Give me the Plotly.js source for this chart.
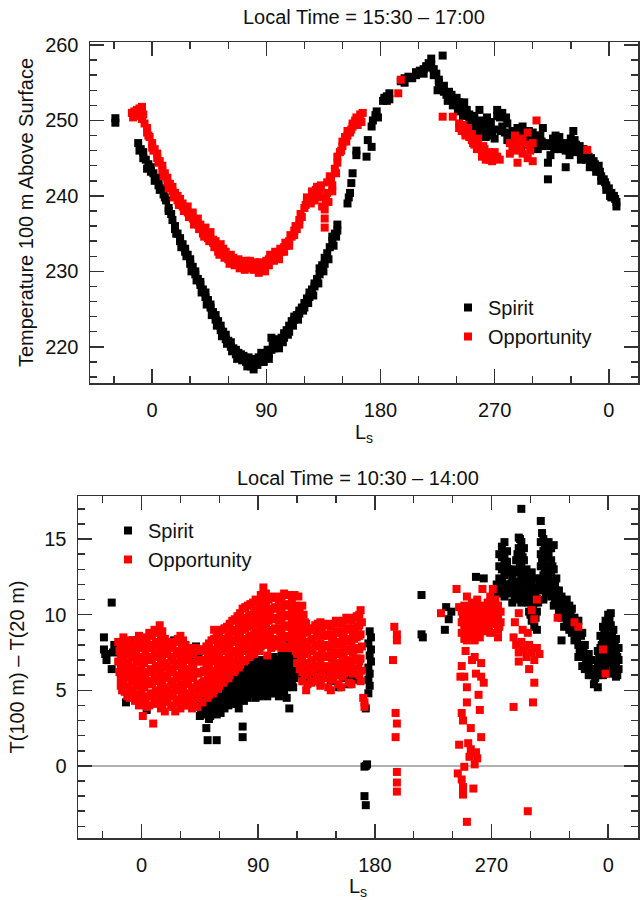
<!DOCTYPE html>
<html>
<head>
<meta charset="utf-8">
<script src="https://cdn.plot.ly/plotly-3.0.1.min.js"></script>
<style>html,body{margin:0;padding:0;background:#fff;}#chart{width:640px;height:900px;}</style>
</head>
<body>
<div id="chart"></div>
<script>
// ---- Data (Ls in degrees, continuing past 360 into the next Mars year) ----
const lsTickVals = [0, 90, 180, 270, 360];
const lsTickText = ["0", "90", "180", "270", "0"];
const topTitle = "Local Time = 15:30 \u2013 17:00";
const bottomTitle = "Local Time = 10:30 \u2013 14:00";
const seriesNames = ["Spirit", "Opportunity"];

// Top panel: temperature 100 m above surface [Ls, T]
const spiritTopPts = [
[-29,250.3],[-29,249.7],[-11,247.0],[-9,246.2],[-7,245.8],[-7,245.0],[-5,244.8],[-3,244.2],[-1,243.8],[-1,243.2],[1,243.0],[3,242.4],[5,242.0],[5,241.4],[7,241.0],[9,240.2],[11,239.4],[13,238.4],[13,238.0],[15,237.6],[18,236.0],[18,235.6],[20,235.0],[22,234.4],[22,234.0],[24,233.6],[26,233.0],[26,232.6],[28,232.2],[30,231.6],[30,231.0],[32,230.6],[34,230.0],[34,229.6],[36,229.0],[38,228.6],[38,228.2],[40,227.6],[42,227.2],[42,226.6],[44,226.2],[46,225.6],[46,225.2],[48,224.6],[50,224.2],[50,223.6],[52,223.4],[54,222.8],[54,222.2],[56,222.0],[58,221.6],[58,221.0],[60,220.8],[62,220.6],[62,220.0],[64,219.8],[66,219.6],[66,219.0],[68,219.2],[70,219.0],[70,218.6],[72,218.8],[74,218.4],[74,218.0],[76,218.6],[78,217.8],[78,217.4],[80,217.6],[80,217.0],[82,218.0],[84,218.6],[84,218.2],[86,219.2],[88,218.4],[88,218.0],[90,218.8],[92,219.0],[92,218.4],[94,219.6],[94,221.2],[96,220.6],[96,219.8],[98,220.2],[100,219.8],[100,220.8],[102,221.2],[104,221.8],[104,221.2],[106,222.2],[108,222.8],[108,222.0],[110,223.4],[112,223.6],[112,224.0],[114,224.2],[116,224.8],[116,224.4],[118,225.2],[120,225.8],[120,225.2],[122,226.4],[124,226.6],[124,227.2],[126,227.6],[128,228.4],[128,228.0],[130,229.0],[132,229.6],[132,230.4],[134,230.8],[136,231.0],[136,231.8],[138,232.4],[140,233.2],[142,234.0],[142,234.6],[144,235.0],[146,236.2],[146,235.4],
[-10,246.0],[-4,243.6],[2,242.0],[6,240.8],[10,239.8],[16,236.8],[19,235.0],[23,233.2],[27,232.0],[31,230.0],[35,228.8],[39,227.2],[43,225.6],[47,224.2],[51,222.8],[55,221.4],[59,220.4],[63,219.4],[67,218.4],[71,218.2],[75,217.4],[79,218.4],[83,217.6],[87,218.0],[91,219.6],[95,220.2],[99,221.0],[103,220.6],[107,221.6],[111,222.8],[115,223.6],[119,224.8],[123,225.8],[127,226.8],[131,228.4],[135,230.0],[139,231.6],[143,233.4],[145,234.6],
[154,239.0],[155,239.8],[156,240.4],[157,241.7],[158,243.0],[161,246.0],[161,245.4],[169,245.2],[170,247.4],[173,246.5],[173,249.2],[174,250.0],[176,250.7],[177,251.2],[178,250.4],
[182,252.6],[183,253.0],[185,252.6],[185,253.2],[187,253.6],[187,252.8],[196,255.2],[199,255.6],[199,255.0],[202,255.8],[205,255.6],[208,256.0],[208,256.4],[211,256.6],[214,256.8],[214,256.2],[216,257.2],[218,257.6],[218,257.0],[220,258.2],[220,257.4],[222,256.8],[222,256.0],[224,256.2],[226,255.4],[226,255.0],[228,254.4],[229,258.6],[230,253.8],[230,254.6],[232,253.4],[234,253.8],[234,252.8],[236,253.4],[238,252.8],[238,252.2],[240,253.0],[242,252.4],[242,251.8],[244,251.6],[246,252.4],[246,251.0],[248,251.4],[250,250.8],[250,250.0],[252,250.4],[254,249.8],[254,250.6],[256,249.4],[258,251.4],[258,250.0],[260,249.0],[262,248.6],[262,249.6],[264,250.4],[266,249.4],[266,248.4],[268,248.0],[270,248.8],[270,247.6],[272,251.4],[272,250.6],[274,250.4],[276,251.0],[276,249.2],[278,248.4],[280,249.6],[280,247.4],[282,247.2],[284,248.6],[284,247.8],[286,248.0],[288,249.0],[288,247.4],[290,248.6],[292,249.2],[292,247.8],[294,248.0],[296,247.2],[296,246.8],[298,247.8],[300,248.4],[300,247.4],[302,246.8],[304,247.4],[304,246.2],[306,248.0],[308,249.0],[308,246.6],[310,247.0],[312,244.4],[312,242.2],[314,245.4],[314,246.6],[316,247.6],[318,248.0],[318,247.0],[320,247.4],[322,246.8],[322,246.2],[324,247.0],[326,246.0],[326,243.8],[328,246.6],[330,247.6],[330,246.2],[332,248.6],[334,246.8],[334,245.8],[336,246.0],[338,245.4],[338,244.8],[340,246.2],[342,245.6],[342,244.8],[344,245.2],[346,244.4],[346,245.0],[348,244.6],[350,243.8],[350,243.2],[352,244.0],[354,242.6],[354,242.0],[356,242.2],[358,241.4],[358,240.8],[360,241.0],[362,240.4],[362,239.8],[364,240.0],[366,239.2],[366,238.6],
[225,254.0],[233,252.6],[237,252.0],[241,251.2],[245,250.6],[249,249.4],[253,249.0],[257,248.6],[263,247.8],[267,249.8],[275,248.6],[279,250.4],[283,248.2],[287,246.6],[291,246.6],[297,248.6],[303,248.0],[307,247.2],[317,246.2],[321,247.8],[325,246.8],[329,245.4],[333,247.4],[337,246.6],[341,245.2],[345,243.8],[349,244.2],[353,243.2],[357,241.8],[361,240.0],[365,239.6]
];
const oppTopPts = [
[-16,251.0],[-14,250.8],[-14,251.2],[-12,251.4],[-10,251.6],[-10,251.0],[-8,251.8],[-8,250.2],[-6,249.6],[-4,249.0],[-4,248.4],[-2,247.8],[0,247.0],[0,246.4],[2,246.2],[4,245.6],[4,245.0],[6,244.6],[8,244.0],[8,243.4],[10,243.0],[12,242.4],[12,241.8],[14,241.6],[16,241.2],[16,240.6],[18,240.4],[20,240.0],[20,239.4],[22,239.6],[24,239.0],[24,238.6],[26,238.4],[28,238.6],[28,237.8],[30,237.6],[32,237.8],[32,237.0],[34,236.8],[36,237.0],[36,236.2],[38,236.2],[40,235.6],[40,235.0],[42,235.8],[44,235.0],[44,234.4],[46,235.2],[48,234.2],[48,233.8],[50,234.0],[52,233.2],[52,232.6],[54,233.6],[56,233.0],[56,232.4],[58,232.6],[60,232.0],[60,231.6],[62,232.2],[64,231.8],[64,231.4],[66,231.4],[68,231.6],[68,231.0],[70,231.2],[72,231.0],[72,230.6],[74,231.4],[76,230.8],[76,230.4],[78,231.0],[80,230.6],[80,230.2],[82,230.8],[84,230.4],[84,229.8],[86,230.8],[88,231.0],[88,230.4],[90,231.4],[92,231.6],[92,230.8],[94,231.8],[96,232.0],[96,231.4],[98,232.2],[100,232.2],[100,231.6],[102,232.6],[104,233.2],[104,232.6],[106,233.4],[108,234.0],[108,233.4],[110,234.6],[112,235.4],[112,234.8],[114,235.6],[116,236.8],[116,236.2],[118,237.2],[120,238.4],[122,239.2],[122,239.8],[124,239.6],[126,240.0],[126,240.6],[128,239.4],[130,240.2],[130,241.2],[132,240.8],[132,239.8],[134,238.6],[136,238.2],[136,237.0],[136,235.8],[138,241.8],[138,240.4],[140,242.6],[142,241.4],[142,240.6],[144,243.6],[146,244.4],[146,245.2],[148,245.8],[150,246.6],[150,247.2],[152,247.8],[154,248.0],[154,248.6],[156,248.4],[158,249.2],[158,249.6],[160,250.0],[162,249.4],[164,250.4],[164,250.8],[166,251.0],
[-15,250.4],[-11,250.6],[-7,250.8],[-3,248.0],[1,246.0],[5,244.4],[9,242.6],[13,241.0],[17,239.8],[21,238.8],[25,238.0],[29,237.2],[33,236.2],[37,235.6],[41,234.6],[45,234.0],[49,233.2],[53,232.2],[57,231.8],[61,231.0],[65,230.8],[69,230.4],[73,230.2],[77,231.4],[81,231.2],[85,231.2],[89,230.0],[93,232.2],[97,232.6],[101,233.0],[105,233.8],[109,234.8],[113,236.0],[117,237.6],[121,238.8],[125,239.0],[129,240.8],[133,241.4],[137,239.6],[139,239.2],[141,242.0],[145,243.0],[149,246.0],[153,247.2],[157,248.8],[161,250.4],[165,249.8],
[194,253.6],[196,255.4],
[229,250.5],[237,250.5],[242,249.6],[242,249.0],[245,249.4],[247,248.4],[247,248.0],[250,247.8],[252,248.2],[252,247.4],[254,246.8],[256,247.0],[256,246.2],[258,246.4],[260,245.8],[260,245.2],[262,246.2],[264,245.4],[266,244.8],[266,245.8],[268,244.6],[272,245.2],[274,244.8],
[244,248.6],[249,249.0],[253,247.0],[257,247.6],[261,246.6],[263,244.8],[270,245.8],
[282,247.0],[282,245.6],[284,246.6],[286,248.0],[286,246.0],[288,247.4],[288,244.4],[290,246.4],[292,247.6],[292,245.6],[294,246.8],[296,248.4],[296,245.0],[298,246.0],[300,247.0],[300,244.6],[303,250.0],[343,246.1]
];

// Bottom panel: T(100 m) - T(20 m) [Ls, dT]
const spiritBotPts = [
[-29,8.5],[-29,7.7],[-27,7.0],[-28,7.4],[-23,6.4],[-23,10.8],[-22,7.5],[-21,8.0],
[-15,6.2],[-12,4.2],[-7,8.3],[-3,8.3],[-3,7.2],[-5,7.8],[4,3.7],[20,4.6],[25,8.3],[39,7.0],[42,7.9],[44,7.4],
[0,6.0],[8,5.5],[14,6.6],[30,5.0],[35,6.2],
[45,5.0],[45,4.4],[46,3.8],[45,3.3],[48,5.2],[48,4.6],[49,4.0],[48,3.4],
[51,5.5],[51,4.9],[52,4.3],[51,3.7],[52,3.1],[50,2.5],[51,1.7],
[54,5.4],[54,4.8],[55,4.2],[54,3.6],
[57,5.8],[57,5.2],[58,4.6],[57,4.0],[58,3.4],[58,1.7],
[60,6.0],[60,5.4],[61,4.8],[60,4.2],[61,3.5],
[63,6.2],[63,5.6],[64,5.0],[63,4.4],[64,3.8],
[66,6.4],[66,5.8],[67,5.2],[66,4.6],[67,4.0],
[69,6.5],[69,5.9],[70,5.3],[69,4.7],[70,4.1],
[72,6.6],[72,6.0],[73,5.4],[72,4.8],[73,4.2],
[75,6.8],[75,6.2],[76,5.6],[75,5.0],[76,4.4],[75,3.8],
[78,6.7],[78,6.1],[79,5.5],[78,4.9],[79,4.3],[78,2.6],[78,1.9],
[81,6.9],[81,6.3],[82,5.7],[81,5.1],[82,4.5],
[84,7.5],[84,6.6],[85,6.0],[84,5.4],[85,4.8],
[87,6.9],[87,6.3],[88,5.7],[87,5.1],[88,4.5],
[90,7.0],[90,6.4],[91,5.8],[90,5.2],[91,4.6],
[93,6.8],[93,6.2],[94,5.6],[93,5.0],
[96,7.0],[96,6.4],[97,5.8],[96,5.2],[97,4.6],
[99,7.1],[99,6.5],[100,5.9],[99,5.3],[100,4.8],
[102,7.2],[102,6.6],[103,6.0],[102,5.4],[103,4.8],
[105,7.0],[105,6.4],[106,5.8],[105,5.2],[106,4.6],
[108,7.3],[108,6.7],[109,6.1],[108,5.5],[109,4.9],
[111,7.6],[111,7.0],[112,6.4],[111,5.8],[112,5.2],[112,4.5],
[114,8.0],[114,7.4],[115,6.8],[114,6.2],[115,5.6],[114,3.8],
[117,8.3],[117,7.6],[118,7.0],[117,6.4],[118,5.8],[117,5.2],
[46.5,4.7],[46.5,4.1],[46.5,3.5],[49.5,5.0],[49.5,4.3],[49.5,3.7],[53,5.1],[53,4.5],[53,3.9],[53,3.3],
[56,5.5],[56,4.9],[56,4.3],[56,3.7],[59,5.7],[59,5.1],[59,4.5],[59,3.9],[62,5.9],[62,5.3],[62,4.7],[62,4.1],
[65,6.1],[65,5.5],[65,4.9],[65,4.3],[68,6.2],[68,5.6],[68,5.0],[68,4.4],[71,6.3],[71,5.7],[71,5.1],[71,4.5],
[74,6.5],[74,5.9],[74,5.3],[74,4.7],[74,4.1],[77,6.4],[77,5.8],[77,5.2],[77,4.6],[80,6.6],[80,6.0],[80,5.4],[80,4.8],
[83,6.9],[83,6.3],[83,5.7],[83,5.1],[86,6.6],[86,6.0],[86,5.4],[86,4.8],[89,6.7],[89,6.1],[89,5.5],[89,4.9],
[92,6.5],[92,5.9],[92,5.3],[92,4.7],[95,6.7],[95,6.1],[95,5.5],[95,4.9],[98,6.8],[98,6.2],[98,5.6],[98,5.0],
[101,6.9],[101,6.3],[101,5.7],[101,5.1],[104,6.7],[104,6.1],[104,5.5],[104,4.9],[107,7.0],[107,6.4],[107,5.8],[107,5.2],
[110,7.3],[110,6.7],[110,6.1],[110,5.5],[110,4.9],[113,7.7],[113,7.1],[113,6.5],[113,5.9],[113,5.3],[116,8.0],[116,7.3],[116,6.7],[116,6.1],[116,5.5],
[120,7.8],[121,7.0],[120,6.2],[124,6.8],[124,6.0],[125,5.6],[128,6.4],[129,5.8],[133,5.9],[133,6.6],[136,9.0],[138,6.0],[138,5.5],[142,6.2],[145,6.2],[146,5.6],[148,6.2],[152,5.2],[152,6.0],[156,5.8],[156,6.5],[160,5.4],[160,6.0],[163,5.9],[167,5.7],[167,6.4],
[176,8.9],[177,8.5],[175,8.1],[177,7.7],[176,7.3],[177,6.9],[175,6.5],[176,6.1],[175,5.7],[176,5.3],[175,4.8],[173,3.8],[172,-0.05],[174,0.1],[173,0.0],[172,-2.0],[173,-2.6],
[216,11.3],[216,8.7],[217,8.5],[235,10.5],[239,10.2],[237,9.7],[234,9.0],
[258,12.5],[264,12.4],[274,11.5],[274,12.0],
[276,14.0],[276,13.2],[276,12.4],[276,11.6],
[278,14.5],[278,13.8],[278,13.0],[278,12.2],[278,11.4],
[280,14.8],[280,14.0],[280,13.3],[280,12.6],[280,11.8],[280,11.2],
[282,14.2],[282,13.5],[282,12.8],[282,12.0],
[284,12.8],[284,12.0],[284,11.4],
[286,12.4],[286,11.6],[286,10.8],
[289,13.6],[289,12.8],[289,12.0],[289,11.2],
[291,15.1],[291,14.4],[291,13.6],[291,12.8],[291,12.1],[291,11.4],
[293,17.0],[293,14.8],[293,14.0],[293,13.2],[293,12.4],[293,11.6],[293,10.8],
[295,14.4],[295,13.6],[295,12.8],[295,12.0],[295,11.2],
[297,13.0],[297,12.2],[297,11.4],
[299,12.5],[299,11.8],[299,11.0],[299,10.2],
[301,12.8],[301,12.0],[301,11.2],[301,10.4],[301,9.6],
[303,12.4],[303,11.6],[303,10.8],[303,10.0],[303,9.2],
[305,11.8],[305,11.0],[305,10.2],[305,9.0],
[308,16.2],[308,14.8],[308,14.0],[308,13.2],[308,12.4],[308,11.6],
[310,15.0],[310,14.2],[310,13.4],[310,12.6],[310,11.8],[310,11.0],
[312,14.6],[312,13.8],[312,13.0],[312,12.2],[312,11.4],
[314,14.8],[314,14.0],[314,13.2],[314,12.4],[314,11.6],
[316,14.4],[316,13.6],[316,12.8],[316,12.0],[316,11.2],
[318,14.6],[318,13.0],[318,12.2],[318,11.4],[318,10.6],
[320,12.4],[320,11.6],[320,10.8],
[322,11.6],[322,10.8],[322,10.2],
[324,11.2],[324,10.4],[324,9.8],[324,8.3],
[326,10.8],[326,10.0],[326,9.2],
[328,11.0],[328,10.2],[328,9.5],
[330,10.6],[330,9.8],[330,9.0],
[332,10.4],[332,9.6],[332,8.8],
[334,9.8],[334,9.0],[334,8.3],
[337,9.6],[337,8.8],[337,8.0],[337,7.2],
[340,8.8],[340,8.0],[340,7.2],[340,6.6],
[342,8.0],[342,7.2],[342,6.4],
[345,7.4],[345,6.6],[345,6.0],
[347,7.0],[347,6.2],[349,6.4],[349,5.4],
[352,7.6],[352,6.8],[352,6.0],[352,5.2],
[354,8.6],[354,7.8],[354,7.0],[354,6.2],
[356,9.2],[356,8.4],[356,7.6],[356,6.8],[356,6.0],
[358,9.6],[358,8.8],[358,8.0],[358,7.2],[358,6.4],
[360,10.0],[360,9.2],[360,8.4],[360,7.6],[360,6.8],
[362,10.1],[362,9.3],[362,8.5],[362,7.7],[362,6.9],[362,6.1],
[364,9.0],[364,8.2],[364,7.4],[364,6.6],
[366,8.4],[366,7.6],[366,6.8],[366,5.9],
[368,7.8],[368,7.0],[368,6.4],
[283,13.0],[283,11.6],[285,12.0],[287,13.0],[287,11.8],[288,11.0],[290,14.0],[290,11.8],[292,15.0],[292,13.4],[292,12.2],[294,13.8],[294,11.4],[296,12.6],[298,12.0],[298,10.8],[300,11.4],[300,10.0],[302,11.8],[302,10.6],[304,11.2],[304,9.8],[306,10.8],[307,12.0],[309,15.4],[309,13.6],[309,12.0],[311,14.4],[311,12.8],[313,14.2],[313,12.6],[315,14.4],[315,12.0],[317,13.2],[317,11.6],[319,12.0],[319,11.0],[321,11.2],[323,10.6],[325,10.2],[327,10.4],[329,9.6],[331,10.2],[333,9.4],[335,9.0],[336,8.4],[338,7.6],[339,8.6],[341,7.6],[343,6.8],[344,7.2],[346,6.4],[348,6.0],[350,5.8],[351,6.4],[353,7.2],[355,8.0],[355,6.6],[357,8.8],[357,7.0],[359,9.2],[359,7.6],[361,9.6],[361,8.0],[363,8.6],[363,7.2],[365,8.0],[365,6.4],[367,7.2],[367,6.0]
];
const oppBotPts = [
[-18,8.2],[-17,7.6],[-18,6.9],[-17,6.2],[-16,5.3],
[-14,8.5],[-13,7.8],[-14,7.0],[-13,6.3],[-14,5.6],[-13,4.9],
[-10,8.3],[-9,7.5],[-10,6.8],[-9,6.0],[-10,5.2],[-9,4.5],
[-6,8.0],[-5,7.3],[-6,6.5],[-5,5.8],[-6,5.0],[-5,4.3],
[-2,8.6],[-1,7.8],[-2,7.0],[-1,6.3],[-2,5.5],[-1,4.7],[-2,4.0],
[1,3.3],
[2,8.3],[3,7.6],[2,6.8],[3,6.0],[2,5.2],[3,4.4],
[6,8.8],[7,8.0],[6,7.2],[7,6.4],[6,5.6],[7,4.8],[6,4.0],
[10,9.0],[11,8.2],[10,7.4],[11,6.6],[10,5.8],[11,5.0],[10,4.2],[9,2.8],
[14,9.3],[15,8.5],[14,7.7],[15,6.9],[14,6.1],[15,5.3],[14,4.5],[15,3.8],
[18,8.4],[19,7.6],[18,6.8],[19,6.0],[18,5.2],[19,4.4],[18,3.6],
[22,8.0],[23,7.2],[22,6.4],[23,5.6],[22,4.8],[23,4.0],
[26,8.2],[27,7.4],[26,6.6],[27,5.8],[26,5.0],[27,4.2],[26,3.6],
[30,8.6],[31,7.8],[30,7.0],[31,6.2],[30,5.4],[31,4.6],[30,3.8],
[34,8.0],[35,7.2],[34,6.4],[35,5.6],[34,4.8],[35,4.0],
[38,7.6],[39,6.8],[38,6.0],[39,5.2],[38,4.4],[39,3.8],
[42,7.8],[43,7.0],[42,6.2],[43,5.4],[42,4.6],[43,3.9],
[46,7.6],[47,6.9],[46,6.2],[47,5.5],[46,4.8],[47,4.2],
[50,7.9],[51,7.2],[50,6.5],[51,5.8],[50,5.1],[51,4.5],
[54,8.3],[55,7.6],[54,6.9],[55,6.2],[54,5.5],[55,4.8],[56,9.0],
[58,8.6],[59,7.9],[58,7.2],[59,6.5],[58,5.8],[59,5.1],
[62,9.0],[63,8.3],[62,7.6],[63,6.9],[62,6.2],[63,5.5],
[66,9.2],[67,8.5],[66,7.8],[67,7.1],[66,6.4],[67,5.8],
[70,9.6],[71,8.9],[70,8.2],[71,7.5],[70,6.8],[71,6.2],
[74,9.9],[75,9.2],[74,8.5],[75,7.8],[74,7.1],[75,6.5],
[78,10.4],[79,9.7],[78,9.0],[79,8.3],[78,7.6],[79,6.9],
[82,10.6],[83,9.9],[82,9.2],[83,8.5],[82,7.8],[83,7.2],
[86,10.8],[87,10.1],[86,9.4],[87,8.7],[86,8.0],[87,7.4],
[90,10.9],[91,10.2],[90,9.5],[91,8.8],[90,8.1],[91,7.6],
[94,11.8],[95,11.0],[94,10.3],[95,9.6],[94,8.9],[95,8.2],
[98,11.0],[99,10.3],[98,9.6],[99,8.9],[98,8.2],[97,7.3],
[102,11.2],[103,10.5],[102,9.8],[103,9.1],[102,8.4],[103,7.9],
[106,11.0],[107,10.3],[106,9.6],[107,8.9],[106,8.2],
[110,11.4],[111,10.7],[110,10.0],[111,9.3],[110,8.6],[111,7.9],
[114,11.3],[115,10.6],[114,9.9],[115,9.2],[114,8.5],[115,7.8],
[118,11.3],[119,10.6],[118,9.9],[119,9.2],[118,8.5],[119,7.6],
[122,9.2],[123,8.5],[122,7.8],[123,7.1],[122,6.4],
[126,8.8],[127,8.1],[126,7.4],[127,6.7],[126,6.0],[127,5.0],
[130,9.0],[131,8.3],[130,7.6],[131,6.9],[130,6.2],[131,5.5],
[134,9.3],[135,8.6],[134,7.9],[135,7.2],[134,6.5],[135,5.8],
[138,9.5],[139,8.8],[138,8.1],[139,7.4],[138,6.7],[139,6.0],[138,5.3],
[142,9.4],[143,8.7],[142,8.0],[143,7.3],[142,6.6],[143,5.9],
[146,9.2],[147,8.5],[146,7.8],[147,7.1],[146,6.4],[147,5.7],[146,5.0],
[150,9.6],[151,8.9],[150,8.2],[151,7.5],[150,6.8],[151,6.1],
[154,9.4],[155,8.7],[154,8.0],[155,7.3],[154,6.6],[155,5.9],[154,5.2],
[158,9.8],[159,9.1],[158,8.4],[159,7.7],[158,7.0],[159,6.3],
[162,9.6],[163,8.9],[162,8.2],[163,7.5],[162,6.8],[163,6.1],[162,5.4],
[166,9.9],[167,9.2],[166,8.5],[167,7.8],[166,7.1],[167,6.4],
[169,10.3],[170,9.5],[169,8.7],[170,7.9],[169,7.1],[170,6.3],[169,5.6],
[-16,7.9],[-16,7.2],[-16,6.5],[-16,5.8],[-15,5.0],
[-12,8.1],[-12,7.4],[-12,6.6],[-12,5.9],[-12,5.2],[-11,4.6],
[-8,8.0],[-8,7.2],[-8,6.4],[-8,5.6],[-8,4.8],
[-4,8.3],[-4,7.6],[-4,6.9],[-4,6.1],[-4,5.3],[-4,4.5],
[0,8.0],[0,7.2],[0,6.5],[0,5.8],[0,5.0],[0,4.2],
[4,8.5],[4,7.8],[4,7.0],[4,6.2],[4,5.4],[4,4.6],[4,3.9],
[8,8.6],[8,7.8],[8,7.0],[8,6.2],[8,5.4],[8,4.6],
[12,8.8],[12,8.0],[12,7.2],[12,6.4],[12,5.6],[12,4.8],[12,4.1],
[16,8.9],[16,8.1],[16,7.3],[16,6.5],[16,5.7],[16,4.9],[16,4.1],
[20,8.2],[20,7.4],[20,6.6],[20,5.8],[20,5.0],[20,4.2],
[24,7.8],[24,7.0],[24,6.2],[24,5.4],[24,4.6],[24,3.9],
[28,8.4],[28,7.6],[28,6.8],[28,6.0],[28,5.2],[28,4.4],
[32,8.3],[32,7.5],[32,6.7],[32,5.9],[32,5.1],[32,4.3],
[36,7.8],[36,7.0],[36,6.2],[36,5.4],[36,4.6],[36,4.0],
[40,7.4],[40,6.6],[40,5.8],[40,5.0],[40,4.2],
[44,7.7],[44,6.9],[44,6.1],[44,5.3],[44,4.5],
[48,7.7],[48,7.0],[48,6.3],[48,5.6],[48,4.9],
[52,8.1],[52,7.4],[52,6.7],[52,6.0],[52,5.3],[52,4.7],
[56,8.4],[56,7.7],[56,7.0],[56,6.3],[56,5.6],[56,5.0],
[60,8.8],[60,8.1],[60,7.4],[60,6.7],[60,6.0],[60,5.3],
[64,9.1],[64,8.4],[64,7.7],[64,7.0],[64,6.3],[64,5.7],
[68,9.4],[68,8.7],[68,8.0],[68,7.3],[68,6.6],[68,6.0],
[72,9.7],[72,9.0],[72,8.3],[72,7.6],[72,6.9],[72,6.3],
[76,10.1],[76,9.4],[76,8.7],[76,8.0],[76,7.3],[76,6.7],
[80,10.5],[80,9.8],[80,9.1],[80,8.4],[80,7.7],[80,7.0],
[84,10.7],[84,10.0],[84,9.3],[84,8.6],[84,7.9],[84,7.3],
[88,11.0],[88,10.3],[88,9.6],[88,8.9],[88,8.2],[88,7.6],
[92,11.3],[92,10.6],[92,9.9],[92,9.2],[92,8.5],[92,7.9],
[96,11.4],[96,10.7],[96,10.0],[96,9.3],[96,8.6],[96,8.0],
[100,11.1],[100,10.4],[100,9.7],[100,9.0],[100,8.3],[100,7.8],
[104,11.1],[104,10.4],[104,9.7],[104,9.0],[104,8.3],
[108,11.2],[108,10.5],[108,9.8],[108,9.1],[108,8.4],[108,7.8],
[112,11.3],[112,10.6],[112,9.9],[112,9.2],[112,8.5],[112,7.8],
[116,11.0],[116,10.3],[116,9.6],[116,8.9],[116,8.2],
[120,10.2],[120,9.5],[120,8.8],[120,8.1],[120,7.4],[120,6.8],
[121,11.2],[122,10.5],[123,9.9],[124,10.6],[125,10.0],[126,9.5],[127,9.4],
[124,9.0],[124,8.3],[124,7.6],[124,6.9],[124,6.2],[124,5.6],
[128,8.9],[128,8.2],[128,7.5],[128,6.8],[128,6.1],[128,5.4],
[132,9.1],[132,8.4],[132,7.7],[132,7.0],[132,6.3],[132,5.6],
[136,9.4],[136,8.7],[136,8.0],[136,7.3],[136,6.6],[136,5.9],
[140,9.3],[140,8.6],[140,7.9],[140,7.2],[140,6.5],[140,5.8],
[144,9.3],[144,8.6],[144,7.9],[144,7.2],[144,6.5],[144,5.8],[144,5.2],
[148,9.4],[148,8.7],[148,8.0],[148,7.3],[148,6.6],[148,5.9],
[152,9.5],[152,8.8],[152,8.1],[152,7.4],[152,6.7],[152,6.0],[152,5.4],
[156,9.6],[156,8.9],[156,8.2],[156,7.5],[156,6.8],[156,6.1],
[160,9.7],[160,9.0],[160,8.3],[160,7.6],[160,6.9],[160,6.2],[160,5.5],
[164,9.8],[164,9.1],[164,8.4],[164,7.7],[164,7.0],[164,6.3],
[168,10.0],[168,9.3],[168,8.6],[168,7.7],[168,6.9],[168,6.0],
[171,4.5],[172,4.2],[172,3.9],
[195,9.2],[197,8.7],[197,8.3],[194,7.0],[196,3.5],[197,2.8],[196,1.9],[197,-0.4],[197,-1.1],[197,-1.7],
[231,10.1],[243,11.7],[245,10.5],
[247,10.2],[247,9.5],[247,8.8],[249,10.6],[249,9.8],[249,9.1],[249,8.4],
[251,11.2],[251,10.4],[251,9.7],[251,9.0],[251,8.3],[253,10.0],[253,9.3],[253,8.6],
[255,10.8],[255,10.1],[255,9.4],[255,8.7],[257,10.4],[257,9.7],[257,9.0],[257,8.3],
[259,11.0],[259,10.2],[259,9.5],[259,8.8],[261,9.9],[261,9.2],[261,8.5],
[263,11.7],[263,10.6],[263,9.8],[263,9.0],[265,10.3],[265,9.6],[265,8.9],
[267,10.8],[267,10.0],[267,9.3],[269,11.2],[269,10.4],[269,9.6],[269,8.8],
[271,11.7],[271,10.9],[271,10.1],[271,9.4],[273,11.0],[273,10.2],[273,9.5],
[275,10.6],[275,9.8],[275,9.0],[275,8.5],[277,10.2],[277,9.5],
[248,9.8],[250,10.2],[250,8.8],[252,9.6],[254,10.4],[254,9.0],[256,9.8],[258,10.6],[258,9.2],[260,10.0],[260,8.6],[262,10.4],[262,9.4],[264,10.0],[264,9.2],[266,9.8],[268,10.4],[268,9.0],[270,10.0],[272,10.6],[272,9.8],[274,10.2],[276,9.2],
[247,6.6],[246,5.9],[251,5.2],[249,5.9],[257,7.2],[262,6.8],[264,5.5],[260,4.7],[251,4.2],[247,3.5],[248,3.0],[261,3.7],[254,2.5],[262,1.9],[245,1.4],[252,1.5],[254,1.1],[253,0.6],[259,0.5],[258,0.9],[257,0.1],[249,-0.06],[244,-0.5],[247,-0.9],[248,-1.4],[256,-1.5],[248,-1.9],[251,-3.7],[250,7.6],[258,6.1],[255,7.0],[262,5.9],
[287,8.5],[288,9.5],[291,10.1],[289,8.0],[291,7.5],[293,8.2],[295,7.7],[297,7.2],[299,8.0],[301,7.5],[303,7.0],[305,7.8],[294,9.0],[301,10.3],[305,11.0],[303,9.7],[298,8.8],[307,7.4],[299,6.4],[303,5.5],[302,4.2],[287,3.9],[298,-3.0],[291,6.9],
[321,9.8],[334,9.5],[337,9.2],[356,7.7],[358,6.1]
];

// ---- Build traces ----
const xs = p => p.map(d => d[0]);
const ys = p => p.map(d => d[1]);
const mk = (c) => ({symbol: 'square', size: 8, color: c, line: {width: 0}});
const BLACK = '#000000', RED = '#ff0000';

const traces = [
  {type:'scatter', mode:'markers', name:seriesNames[0], x:xs(spiritTopPts), y:ys(spiritTopPts), xaxis:'x', yaxis:'y', marker:mk(BLACK), legend:'legend', legendgroup:'a'},
  {type:'scatter', mode:'markers', name:seriesNames[1], x:xs(oppTopPts), y:ys(oppTopPts), xaxis:'x', yaxis:'y', marker:mk(RED), legend:'legend', legendgroup:'b'},
  {type:'scatter', mode:'markers', name:seriesNames[0], x:xs(spiritBotPts), y:ys(spiritBotPts), xaxis:'x2', yaxis:'y2', marker:mk(BLACK), legend:'legend2', legendgroup:'c'},
  {type:'scatter', mode:'markers', name:seriesNames[1], x:xs(oppBotPts), y:ys(oppBotPts), xaxis:'x2', yaxis:'y2', marker:mk(RED), legend:'legend2', legendgroup:'d'}
];

const FONT = {family:'"Liberation Sans", Arial, Helvetica, sans-serif', size:20, color:'#111'};
const AX = '#333';
function xAxis(domain, anchor) {
  return {
    domain: domain, anchor: anchor, range: [-49, 383],
    tickmode:'array', tickvals: lsTickVals, ticktext: lsTickText,
    ticks:'inside', ticklen:14, tickwidth:1.5, tickcolor:AX,
    showline:true, linecolor:AX, linewidth:1.5, mirror:'ticks',
    showgrid:false, zeroline:false, tickfont:FONT, ticklabelstandoff:8,
    minor:{tickmode:'linear', tick0:0, dtick:30, ticks:'inside', ticklen:7, tickwidth:1.5, tickcolor:AX, showgrid:false},
    title:{text:'L<sub>s</sub>', font:FONT, standoff:4}
  };
}
const layout = {
  width:640, height:900,
  margin:{l:0, r:0, t:0, b:0},
  paper_bgcolor:'#fff', plot_bgcolor:'#fff',
  font: FONT,
  showlegend:true,
  xaxis: xAxis([90/640, 638/640], 'y'),
  xaxis2: xAxis([78/640, 638/640], 'y2'),
  yaxis: {
    domain:[1-383/900, 1-42/900], anchor:'x', range:[215.2, 260.4],
    tickmode:'linear', tick0:220, dtick:10,
    ticks:'inside', ticklen:14, tickwidth:1.5, tickcolor:AX,
    showline:true, linecolor:AX, linewidth:1.5, mirror:'ticks',
    showgrid:false, zeroline:false, tickfont:FONT, ticklabelstandoff:6,
    minor:{tickmode:'linear', tick0:220, dtick:2, ticks:'inside', ticklen:7, tickwidth:1.5, tickcolor:AX, showgrid:false},
    title:{text:'Temperature 100 m Above Surface', font:FONT, standoff:6}
  },
  yaxis2: {
    domain:[1-838/900, 1-496/900], anchor:'x2', range:[-4.77, 17.85],
    tickmode:'linear', tick0:0, dtick:5,
    ticks:'inside', ticklen:14, tickwidth:1.5, tickcolor:AX,
    showline:true, linecolor:AX, linewidth:1.5, mirror:'ticks',
    showgrid:false, zeroline:true, zerolinecolor:'#b0b0b0', zerolinewidth:1.5,
    tickfont:FONT, ticklabelstandoff:6,
    minor:{tickmode:'linear', tick0:0, dtick:1, ticks:'inside', ticklen:7, tickwidth:1.5, tickcolor:AX, showgrid:false},
    title:{text:'T(100 m) \u2013 T(20 m)', font:FONT, standoff:14}
  },
  legend: {x:448/640, y:1-288/900, xanchor:'left', yanchor:'top', bgcolor:'rgba(0,0,0,0)', font:FONT, tracegroupgap:0, itemclick:false},
  legend2: {x:108/640, y:1-511/900, xanchor:'left', yanchor:'top', bgcolor:'rgba(0,0,0,0)', font:FONT, tracegroupgap:0, itemclick:false},
  annotations: [
    {text: topTitle, xref:'paper', yref:'paper', x:364/640, y:1-17/900, xanchor:'center', yanchor:'middle', showarrow:false, font:FONT},
    {text: bottomTitle, xref:'paper', yref:'paper', x:358/640, y:1-478/900, xanchor:'center', yanchor:'middle', showarrow:false, font:FONT}
  ]
};
Plotly.newPlot('chart', traces, layout, {displayModeBar:false, staticPlot:true});
</script>
</body>
</html>
